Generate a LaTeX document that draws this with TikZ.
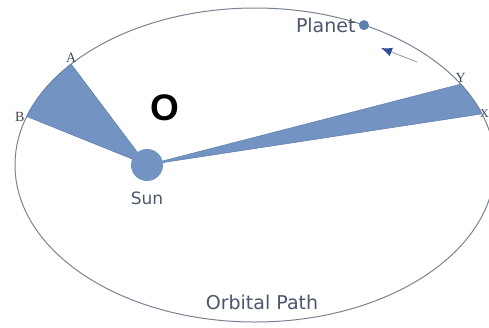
\documentclass[tikz,border=0pt]{standalone}
\usepackage{fontspec}
\usepackage{xcolor}
\usetikzlibrary{positioning, arrows.meta}
\newfontfamily\labelfont{DejaVu Sans}
\newfontfamily\pointfont{Liberation Serif}
\newfontfamily\markfont{Liberation Sans}
\definecolor{orbit}{HTML}{7A8294}
\definecolor{area}{HTML}{7393C3}
\definecolor{areaedge}{HTML}{5E7BAA}
\definecolor{body}{HTML}{5B7FAF}
\definecolor{ink}{HTML}{4A576C}
\definecolor{arrowhd}{HTML}{2C4C9C}

\begin{document}
\begin{tikzpicture}[x=1pt, y=-1pt, node distance=4pt,
	lbl/.style={text=ink, font=\labelfont\fontsize{19}{19}\selectfont, inner sep=0pt},
	pt/.style={text=ink!80!black, font=\pointfont\fontsize{14}{14}\selectfont, inner sep=0pt},
	sector/.style={fill=area, draw=areaedge, line width=0.5pt, line join=round}]
	\useasboundingbox (0,0) rectangle (489,327);
	\coordinate (C) at (255,165);
	\coordinate (focus) at (147,165);
	\draw[orbit, line width=1pt] (C) ellipse [x radius=240pt, y radius=157pt];
	\path (C) ++(140:240pt and 157pt) coordinate (A);
	\path (C) ++(162:240pt and 157pt) coordinate (B);
	\path (C) ++(31:240pt and 157pt) coordinate (Y);
	\path (C) ++(19:240pt and 157pt) coordinate (X);
	\path (C) ++(63:240pt and 157pt) coordinate (P);
	\draw[sector] (focus) -- (A) arc[start angle=140, end angle=162, x radius=240pt, y radius=157pt] -- cycle;
	\draw[sector] (focus) -- (X) arc[start angle=19, end angle=31, x radius=240pt, y radius=157pt] -- cycle;
	\node[circle, fill=area, minimum size=32pt, inner sep=0pt] (sun) at (focus) {};
	\node[circle, fill=body, minimum size=10pt, inner sep=0pt] (planet) at (P) {};
	\node[lbl, left=3pt of planet] (planetlbl) {Planet};
	\node[lbl, font=\labelfont\fontsize{17}{17}\selectfont, below=10pt of sun] (sunlbl) {Sun};
	\node[lbl] (pathlbl) at (262,302) {Orbital Path};
	\node[pt, above=1pt of A] (Albl) {A};
	\node[pt, left=2pt of B] (Blbl) {B};
	\node[pt, above=1pt of Y] (Ylbl) {Y};
	\node[pt, font=\pointfont\fontsize{12}{12}\selectfont, anchor=west, xshift=-2pt] (Xlbl) at (X) {X};
	\node[font=\markfont\bfseries\fontsize{37}{37}\selectfont, inner sep=0pt] (mark) at (165,108) {O};
	\coordinate (tail) at (417,62);
	\coordinate (head) at (381,48);
	\draw[orbit!70, line width=1pt, -{Latex[length=11pt, width=9pt, color=arrowhd]}] (tail) -- (head);
\end{tikzpicture}
\end{document}
